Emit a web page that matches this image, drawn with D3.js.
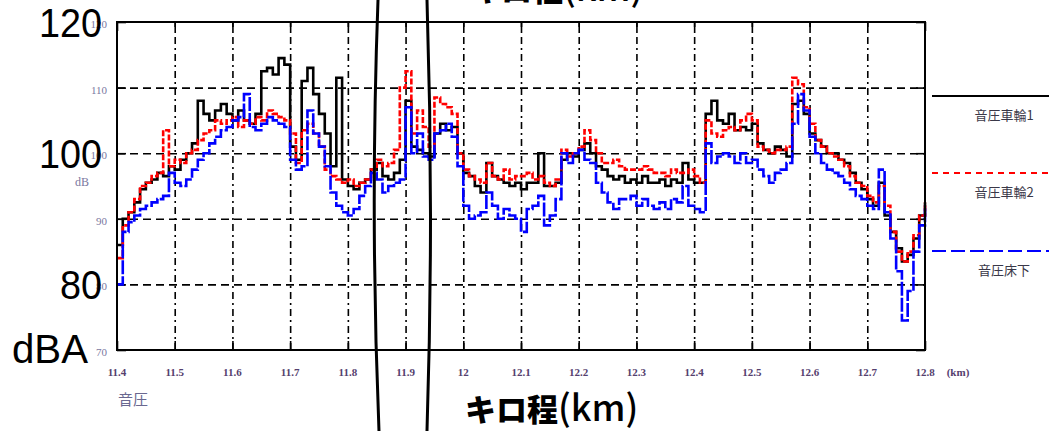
<!DOCTYPE html>
<html>
<head>
<meta charset="utf-8">
<script src="https://cdn.jsdelivr.net/npm/d3@7"></script>
<style>
  html, body { margin: 0; padding: 0; background: #fff; }
  svg { display: block; }
</style>
</head>
<body>
<svg id="chart" width="1049" height="431"></svg>
<script>
// Distance along the line (km), one sample every 0.01 km from 11.40 to 12.80
const kmStart = 11.4;
const kmStep = 0.01;

// 音圧車輪1 (dB)
const wheel1 = [
  86, 90, 91, 92.5, 94.5, 95.5, 96, 97, 96.5, 98,
  97.5, 99, 100, 101.5, 108, 106, 105, 106.5, 107.5, 106,
  105, 106.5, 105, 104.5, 106, 112.5, 113, 112, 114.5, 113.5,
  101, 99, 111, 113, 109, 106, 103, 98, 111.5, 96,
  95, 94.5, 95.5, 96, 97.5, 98.5, 96.5, 96, 97, 99,
  108, 101, 100.5, 100, 99.5, 103, 104.5, 103.5, 104, 100,
  97, 96.5, 95, 94, 98.5, 96.5, 96, 95.5, 95, 95.5,
  94.5, 95.5, 95.5, 100, 95, 95, 95.5, 99, 100, 99.5,
  100.5, 101.5, 100, 98, 97.5, 96.5, 96, 96.5, 95.5, 96,
  95.5, 96.5, 95.5, 95.5, 96, 95, 96, 95.5, 98.5, 96,
  95.5, 95.5, 106, 108, 105, 104.5, 106, 103.5, 104, 103.5,
  104.5, 101.5, 100.5, 100, 101, 100.5, 99.5, 107.5, 108, 106,
  103, 102, 101, 100, 100, 99, 98.5, 97, 95.5, 94.5,
  93, 92, 95.5, 90.5, 88, 85.5, 83.5, 84.5, 87, 90.5,
  92.5
];

// 音圧車輪2 (dB)
const wheel2 = [
  84, 89, 91, 93, 95, 95.5, 96.5, 97, 103.5, 98,
  99, 98.5, 100, 100.5, 102, 103, 103.5, 105, 104.5, 105,
  105.5, 104, 105, 104.5, 105.5, 105, 106.5, 106, 105.5, 105,
  103, 98.5, 103.5, 104.5, 103, 101, 97.5, 96.5, 96, 95.5,
  96, 95, 95.5, 96, 97.5, 99, 98, 98.5, 100.5, 110,
  112.5, 103, 106.5, 104, 101, 108.5, 107.5, 107, 106, 100,
  97.5, 96.5, 96, 95.5, 98.5, 96.5, 96, 97.5, 96, 96.5,
  96.5, 97, 96, 96.5, 95.5, 95, 96, 100.5, 99.5, 100,
  101, 103.5, 102, 100, 98.5, 98.5, 99, 98, 97.5, 97.5,
  97.5, 98, 97.5, 97, 97, 96.5, 97.5, 97, 97, 97.5,
  96.5, 95.5, 105, 103, 102.5, 103.5, 104, 103.5, 105, 106,
  105, 101, 100.5, 100, 100.5, 100.5, 101, 111.5, 110.5, 107,
  104.5, 102, 101, 100, 99.5, 99, 98, 96.5, 95.5, 95,
  93.5, 92.5, 95, 92, 88, 85, 83.5, 85, 87.5, 90.5,
  92.5
];

// 音圧床下 (dB)
const underfloor = [
  80, 88, 89.5, 90.5, 91.5, 92, 92.5, 93, 93.5, 97,
  95.5, 95, 96, 97.5, 99, 100, 101.5, 102.5, 103.5, 104,
  105, 105.5, 109, 104, 103.5, 104.5, 105.5, 105, 104.5, 104,
  99, 97.5, 98, 106.5, 103, 101, 98, 94, 92, 91,
  90.5, 91.5, 93.5, 95, 97, 96, 94, 95, 95.5, 96,
  107, 100, 103, 99.5, 99, 103, 103.5, 104.5, 102.5, 98,
  92, 90, 90.5, 91, 94, 92, 90, 91.5, 90.5, 90,
  88, 91.5, 92, 93.5, 89, 90.5, 93, 100, 98.5, 100,
  100.5, 99, 98.5, 95.5, 94, 92.5, 91.5, 93, 93, 93.5,
  92, 93, 92, 91.5, 92.5, 91.5, 93, 92.5, 95, 92,
  91.5, 91, 101.5, 98.5, 99.5, 100, 99.5, 98.5, 100, 98.5,
  99, 97.5, 96.5, 95.5, 97, 97.5, 98.5, 104.5, 109, 106.5,
  102.5, 100, 98.5, 97.5, 97, 96.5, 95.5, 94.5, 93.5, 93,
  92, 91.5, 97.5, 91, 87, 82, 74.5, 79, 85, 89,
  92
];

const xTicks = [11.4, 11.5, 11.6, 11.7, 11.8, 11.9, 12, 12.1, 12.2, 12.3, 12.4, 12.5, 12.6, 12.7, 12.8];
const xTickLabels = ["11.4", "11.5", "11.6", "11.7", "11.8", "11.9", "12", "12.1", "12.2", "12.3", "12.4", "12.5", "12.6", "12.7", "12.8"];
const yTicks = [70, 80, 90, 100, 110, 120];
const bigYLabels = [120, 100, 80];
const seriesNames = ["音圧車輪1", "音圧車輪2", "音圧床下"];

const svg = d3.select("#chart");
const plot = { left: 117, right: 925, top: 22, bottom: 350 };

const x = d3.scaleLinear().domain([11.4, 12.8]).range([plot.left, plot.right]);
const y = d3.scaleLinear().domain([70, 120]).range([plot.bottom, plot.top]);

// dashed grid
const gridV = svg.append("g")
  .attr("transform", `translate(0,${plot.bottom})`)
  .call(d3.axisBottom(x).tickValues(xTicks.slice(1, -1)).tickSize(-(plot.bottom - plot.top)).tickFormat(""));
gridV.select(".domain").remove();
gridV.selectAll("line").attr("stroke", "#000").attr("stroke-width", 1.6).attr("stroke-dasharray", "7,4,2,4");

const gridH = svg.append("g")
  .attr("transform", `translate(${plot.left},0)`)
  .call(d3.axisLeft(y).tickValues(yTicks.slice(1, -1)).tickSize(-(plot.right - plot.left)).tickFormat(""));
gridH.select(".domain").remove();
gridH.selectAll("line").attr("stroke", "#000").attr("stroke-width", 1.6).attr("stroke-dasharray", "8,5");

// solid inner ticks on all four sides
const tickLen = 9;
const axB = svg.append("g").attr("transform", `translate(0,${plot.bottom})`)
  .call(d3.axisBottom(x).tickValues(xTicks).tickSizeInner(-tickLen).tickSizeOuter(0).tickFormat(""));
const axT = svg.append("g").attr("transform", `translate(0,${plot.top})`)
  .call(d3.axisTop(x).tickValues(xTicks).tickSizeInner(-tickLen).tickSizeOuter(0).tickFormat(""));
const axL = svg.append("g").attr("transform", `translate(${plot.left},0)`)
  .call(d3.axisLeft(y).tickValues(yTicks).tickSizeInner(-tickLen).tickSizeOuter(0).tickFormat(""));
const axR = svg.append("g").attr("transform", `translate(${plot.right},0)`)
  .call(d3.axisRight(y).tickValues(yTicks).tickSizeInner(-tickLen).tickSizeOuter(0).tickFormat(""));
[axB, axT, axL, axR].forEach(g => {
  g.select(".domain").remove();
  g.selectAll("line").attr("stroke", "#000").attr("stroke-width", 1.6);
});

// series
const line = d3.line()
  .x((d, i) => x(kmStart + kmStep * i))
  .y(d => y(d))
  .curve(d3.curveStepAfter);

const series = [
  { data: wheel1, color: "#000000", dash: null, width: 2.6 },
  { data: wheel2, color: "#ff0000", dash: "6,2", width: 2.6 },
  { data: underfloor, color: "#0000ff", dash: "14,2", width: 2.6 }
];
series.forEach(s => {
  svg.append("path")
    .datum(s.data)
    .attr("d", line)
    .attr("fill", "none")
    .attr("stroke", s.color)
    .attr("stroke-width", s.width)
    .attr("stroke-dasharray", s.dash)
    .attr("stroke-linejoin", "miter");
});

// frame
svg.append("rect")
  .attr("x", plot.left).attr("y", plot.top)
  .attr("width", plot.right - plot.left).attr("height", plot.bottom - plot.top)
  .attr("fill", "none").attr("stroke", "#000").attr("stroke-width", 2);

// small tick labels
svg.append("g").selectAll("text")
  .data(yTicks).join("text")
  .attr("x", plot.left - 10)
  .attr("y", d => y(d) + 6)
  .attr("text-anchor", "end")
  .attr("font-family", "Liberation Serif, serif")
  .attr("font-size", 11)
  .attr("fill", "#7a78a0")
  .text(d => d);

svg.append("text")
  .attr("x", 82).attr("y", 186)
  .attr("text-anchor", "middle")
  .attr("font-family", "Liberation Serif, serif")
  .attr("font-size", 12)
  .attr("fill", "#7a78a0")
  .text("dB");

svg.append("g").selectAll("text")
  .data(xTicks).join("text")
  .attr("x", d => x(d))
  .attr("y", 376)
  .attr("text-anchor", "middle")
  .attr("font-family", "Liberation Serif, serif")
  .attr("font-size", 11)
  .attr("font-weight", "bold")
  .attr("fill", "#55406e")
  .text((d, i) => xTickLabels[i]);

svg.append("text")
  .attr("x", 958).attr("y", 376)
  .attr("text-anchor", "middle")
  .attr("font-family", "Liberation Serif, serif")
  .attr("font-size", 11)
  .attr("font-weight", "bold")
  .attr("fill", "#55406e")
  .text("(km)");

svg.append("text")
  .attr("x", 133).attr("y", 405)
  .attr("text-anchor", "middle")
  .attr("font-family", "Noto Sans CJK JP, sans-serif")
  .attr("font-size", 15)
  .attr("fill", "#6a6890")
  .text("音圧");

// legend
const legendY = [96, 173, 251];
const legend = svg.append("g");
series.forEach((s, i) => {
  legend.append("line")
    .attr("x1", 932).attr("x2", 1049)
    .attr("y1", legendY[i]).attr("y2", legendY[i])
    .attr("stroke", s.color)
    .attr("stroke-width", 2)
    .attr("stroke-dasharray", i === 1 ? "6,5" : i === 2 ? "14,5" : null);
  legend.append("text")
    .attr("x", 1004).attr("y", legendY[i] + 24)
    .attr("text-anchor", "middle")
    .attr("font-family", "Noto Sans CJK JP, sans-serif")
    .attr("font-size", 13)
    .attr("fill", "#3a3848")
    .text(seriesNames[i]);
});

// large labels
const bigFont = "Liberation Sans, Arial, sans-serif";
svg.append("g").selectAll("text")
  .data(bigYLabels).join("text")
  .attr("x", 102)
  .attr("y", d => y(d) + 15)
  .attr("text-anchor", "end")
  .attr("font-family", bigFont)
  .attr("font-size", 41)
  .attr("fill", "#000")
  .attr("textLength", d => String(d).length * 21)
  .attr("lengthAdjust", "spacingAndGlyphs")
  .text(d => d);

svg.append("text")
  .attr("x", 12).attr("y", 363)
  .attr("font-family", bigFont)
  .attr("font-size", 41)
  .attr("fill", "#000")
  .attr("textLength", 76)
  .attr("lengthAdjust", "spacingAndGlyphs")
  .text("dBA");

function distanceTitle(xPos, yPos) {
  const t = svg.append("text").attr("x", xPos).attr("y", yPos).attr("fill", "#000");
  t.append("tspan")
    .attr("font-family", "Noto Sans CJK JP, sans-serif")
    .attr("font-weight", 900)
    .attr("font-size", 31)
    .text("キロ程");
  t.append("tspan")
    .attr("font-family", "Noto Sans CJK JP, sans-serif")
    .attr("font-weight", 500)
    .attr("font-size", 36)
    .text("(km)");
}
distanceTitle(465, 421);
distanceTitle(470, 1);

// two curved strokes
const arcs = [
  [[378, 0], [370, 215], [379, 431]],
  [[427, 0], [434, 215], [427, 431]]
];
arcs.forEach(p => {
  const path = d3.path();
  path.moveTo(p[0][0], p[0][1]);
  path.quadraticCurveTo(p[1][0], p[1][1], p[2][0], p[2][1]);
  svg.append("path")
    .attr("d", path.toString())
    .attr("fill", "none")
    .attr("stroke", "#000")
    .attr("stroke-width", 3);
});
</script>
</body>
</html>
